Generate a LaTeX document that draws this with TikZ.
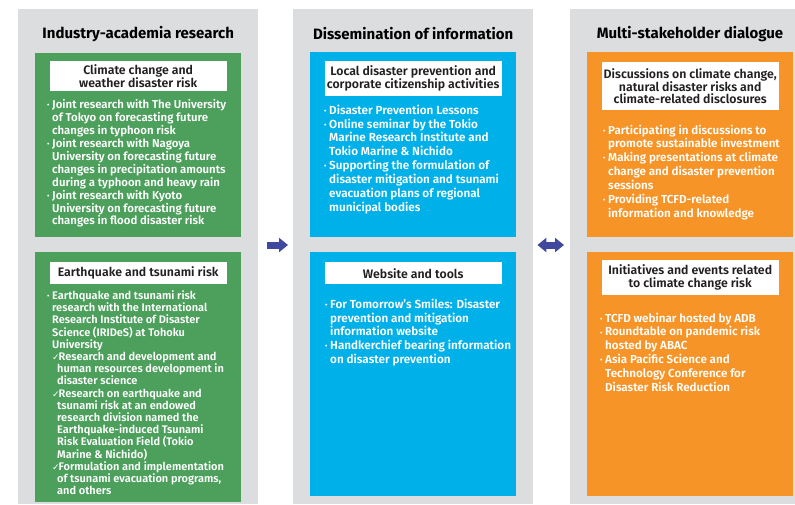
\documentclass[tikz,border=0pt]{standalone}
\usepackage{fontspec}
\setmainfont{Fira Sans}[BoldFont={Fira Sans SemiBold}]
\newfontfamily\headfont{Fira Sans}[BoldFont={Fira Sans Bold}]
\newfontfamily\symfont{DejaVu Sans}
\usepackage{xcolor}
\usetikzlibrary{positioning, arrows.meta}
\definecolor{panelgray}{RGB}{220,221,223}
\definecolor{tmgreen}{RGB}{76,160,92}
\definecolor{tmblue}{RGB}{0,176,233}
\definecolor{tmorange}{RGB}{247,148,40}
\definecolor{arrblue}{RGB}{64,73,158}
\definecolor{titlegray}{RGB}{35,31,32}
\newcommand\bul{\makebox[5pt][l]{\raisebox{0.15ex}{\fontsize{7}{7}\selectfont •}}}
\newcommand\ind{\hspace*{5pt}}
\newcommand\chk{\makebox[6.5pt][l]{{\symfont\fontsize{9}{9}\selectfont ✓}}}

\begin{document}
\begin{tikzpicture}[
  x=1pt, y=-1pt,
  panel/.style={fill=panelgray, anchor=north west, inner sep=0, minimum width=240pt},
  colbox/.style={anchor=north west, inner sep=0, minimum width=206pt},
  ptitle/.style={font=\headfont\bfseries\fontsize{15}{17}\selectfont, text=black},
  wtitle/.style={fill=white, align=center, inner sep=0, minimum width=177pt, text=titlegray,
    font=\bfseries\fontsize{12.3}{12.6}\selectfont},
  body/.style={anchor=north west, inner sep=0, align=left, text=white,
    font=\bfseries\fontsize{11.4}{12.9}\selectfont},
  fatarr/.style={draw=arrblue, line width=7pt, -{Triangle[length=9pt, width=14pt]}},
  fatbi/.style={draw=arrblue, line width=7pt, {Triangle[length=9pt, width=14pt]}-{Triangle[length=9pt, width=14pt]}},
]
  \useasboundingbox (0,0) rectangle (795,504);

  % three gray columns
  \node[panel, minimum height=495pt] (p1) at (18,9) {};
  \node[panel, minimum height=495pt] (p2) at (293,9) {};
  \node[panel, minimum height=495pt, minimum width=225pt] (p3) at (570,9) {};

  \node[ptitle] (t1) at ([yshift=-25pt]p1.north) {Industry-academia research};
  \node[ptitle] (t2) at ([yshift=-25pt]p2.north) {Dissemination of information};
  \node[ptitle] (t3) at (690,34) {Multi-stakeholder dialogue};

  % coloured boxes
  \node[colbox, fill=tmgreen, minimum height=184pt] (g1) at (35,53) {};
  \node[colbox, fill=tmgreen, minimum height=250pt] (g2) at (35,252) {};
  \node[colbox, fill=tmblue, minimum height=185pt] (b1) at (310,52) {};
  \node[colbox, fill=tmblue, minimum height=244pt] (b2) at (310,252) {};
  \node[colbox, fill=tmorange, minimum height=185pt] (o1) at (587,52) {};
  \node[colbox, fill=tmorange, minimum height=244pt] (o2) at (587,252) {};

  % white headings
  \node[wtitle, below=8pt of g1.north, minimum height=30pt] (g1t) {Climate change and\\weather disaster risk};
  \node[wtitle, below=10pt of g2.north, minimum height=22pt] (g2t) {Earthquake and tsunami risk};
  \node[wtitle, below=9pt of b1.north, minimum height=35pt] (b1t) {Local disaster prevention and\\corporate citizenship activities};
  \node[wtitle, below=10pt of b2.north, minimum height=22pt] (b2t) {Website and tools};
  \node[wtitle, below=10pt of o1.north, minimum height=48pt] (o1t) {Discussions on climate change,\\natural disaster risks and\\climate-related disclosures};
  \node[wtitle, below=8pt of o2.north, minimum height=35pt] (o2t) {Initiatives and events related\\to climate change risk};

  % lists
  \node[body] (g1l) at (47,99.5) {\bul Joint research with The University\\
    \ind of Tokyo on forecasting future\\
    \ind changes in typhoon risk\\
    \bul Joint research with Nagoya\\
    \ind University on forecasting future\\
    \ind changes in precipitation amounts\\
    \ind during a typhoon and heavy rain\\
    \bul Joint research with Kyoto\\
    \ind University on forecasting future\\
    \ind changes in flood disaster risk};
  \node[body, font=\bfseries\fontsize{11}{12.2}\selectfont] (g2l) at (47,290.5) {\bul Earthquake and tsunami risk\\
    \ind research with the International\\
    \ind Research Institute of Disaster\\
    \ind Science (IRIDeS) at Tohoku\\
    \ind University\\
    \ind\chk Research and development and\\
    \ind\ind human resources development in\\
    \ind\ind disaster science\\
    \ind\chk Research on earthquake and\\
    \ind\ind tsunami risk at an endowed\\
    \ind\ind research division named the\\
    \ind\ind Earthquake-induced Tsunami\\
    \ind\ind Risk Evaluation Field (Tokio\\
    \ind\ind Marine \& Nichido)\\
    \ind\chk Formulation and implementation\\
    \ind\ind of tsunami evacuation programs,\\
    \ind\ind and others};
  \node[body, font=\bfseries\fontsize{11.7}{13.9}\selectfont] (b1l) at (324,104.5) {\bul Disaster Prevention Lessons\\
    \bul Online seminar by the Tokio\\
    \ind Marine Research Institute and\\
    \ind Tokio Marine \& Nichido\\
    \bul Supporting the formulation of\\
    \ind disaster mitigation and tsunami\\
    \ind evacuation plans of regional\\
    \ind municipal bodies};
  \node[body, font=\bfseries\fontsize{11.7}{13.9}\selectfont] (b2l) at (325,298.5) {\bul For Tomorrow’s Smiles: Disaster\\
    \ind prevention and mitigation\\
    \ind information website\\
    \bul Handkerchief bearing information\\
    \ind on disaster prevention};
  \node[body, font=\bfseries\fontsize{11.6}{13.9}\selectfont] (o1l) at (603,124.5) {\bul Participating in discussions to\\
    \ind promote sustainable investment\\
    \bul Making presentations at climate\\
    \ind change and disaster prevention\\
    \ind sessions\\
    \bul Providing TCFD-related\\
    \ind information and knowledge};
  \node[body, font=\bfseries\fontsize{11.6}{13.9}\selectfont] (o2l) at (600,312.5) {\bul TCFD webinar hosted by ADB\\
    \bul Roundtable on pandemic risk\\
    \ind hosted by ABAC\\
    \bul Asia Pacific Science and\\
    \ind Technology Conference for\\
    \ind Disaster Risk Reduction};

  % arrows between columns
  \coordinate (ar) at (0,245);
  \draw[fatarr] ([xshift=9pt]p1.east |- ar) -- ([xshift=-5pt]p2.west |- ar);
  \draw[fatbi] ([xshift=4pt]p2.east |- ar) -- ([xshift=-6pt]p3.west |- ar);
\end{tikzpicture}
\end{document}
